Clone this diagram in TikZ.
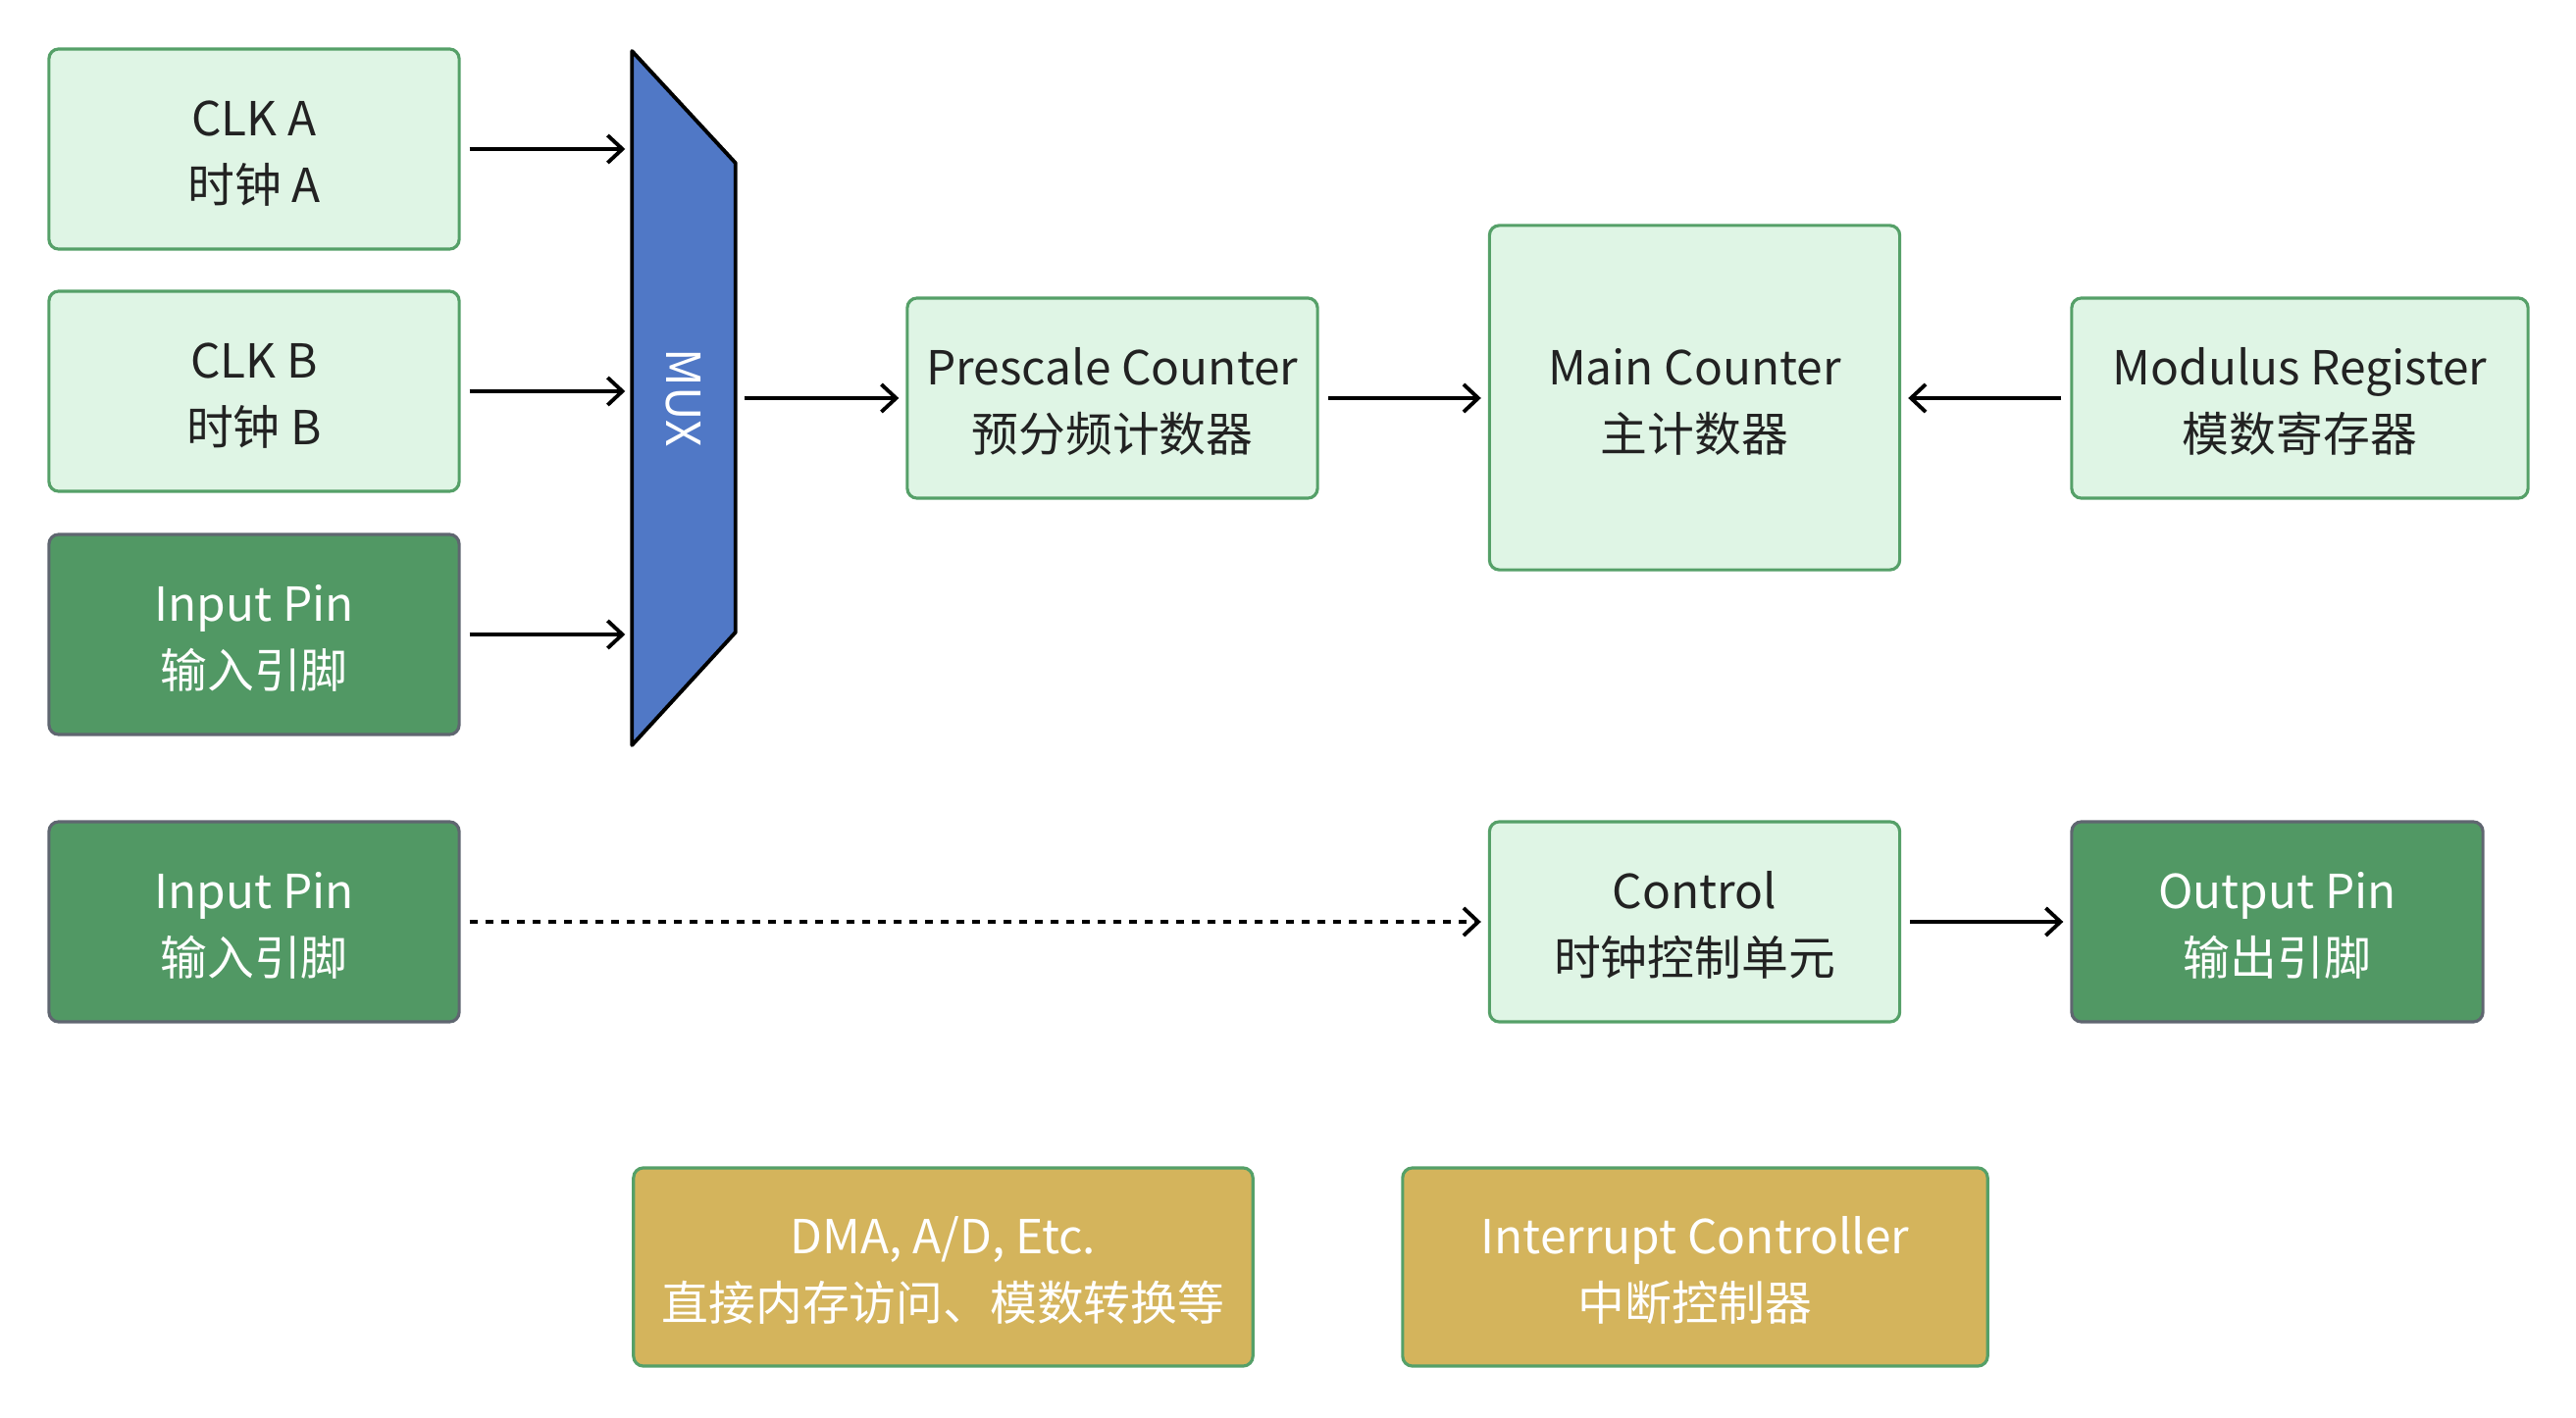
\documentclass[tikz,border=0pt]{standalone}
\usepackage{fontspec}
\setmainfont{Noto Sans CJK SC}
\usetikzlibrary{arrows.meta}
\definecolor{lightfill}{HTML}{DFF5E5}
\definecolor{greenline}{HTML}{55A068}
\definecolor{pinfill}{HTML}{519864}
\definecolor{pinline}{HTML}{5F6670}
\definecolor{muxfill}{HTML}{5078C6}
\definecolor{busfill}{HTML}{D4B45C}
\definecolor{textdark}{HTML}{222222}
\newcommand{\twolines}[2]{\rule{0pt}{0.95em}#1\\#2}
\tikzset{
	box/.style={draw=greenline,fill=lightfill,line width=0.9pt,rounded corners=0.1cm,
		align=center,text=textdark,inner sep=0pt,minimum width=4.18cm,minimum height=2.04cm,
		font=\fontsize{13.6pt}{19.3pt}\selectfont},
	pinbox/.style={box,draw=pinline,fill=pinfill,text=white},
	busbox/.style={box,fill=busfill,text=white},
	arr/.style={-{Straight Barb[length=0.15cm,width=0.28cm]},line width=1.1pt,
		shorten <=0.09cm,shorten >=0.07cm},
}
\begin{document}
\begin{tikzpicture}[x=0.01cm,y=-0.01cm]
	\useasboundingbox (0,0) rectangle (2626,1446);
	\node[box] (clkA) at (259,152) {\twolines{CLK A}{时钟 A}};
	\node[box] (clkB) at (259,399) {\twolines{CLK B}{时钟 B}};
	\node[pinbox] (inA) at (259,647) {\twolines{Input Pin}{输入引脚}};
	\node[pinbox] (inB) at (259,940) {\twolines{Input Pin}{输入引脚}};
	\node[inner sep=0pt,minimum width=1.04cm,minimum height=7.06cm] (mux) at (697,406) {};
	\draw[fill=muxfill,line width=1.1pt,line join=round] (mux.north west) -- ([yshift=-1.14cm]mux.north east)
		-- ([yshift=1.15cm]mux.south east) -- (mux.south west) -- cycle;
	\node[text=white,font=\fontsize{13.6pt}{19.3pt}\selectfont] (muxlabel) at (mux) {\rotatebox{-90}{MUX}};
	\node[box] (pre) at (1134,406) {\twolines{Prescale Counter}{预分频计数器}};
	\node[box,minimum height=3.51cm] (main) at (1727.5,405.5) {\twolines{Main Counter}{主计数器}};
	\node[box,minimum width=4.65cm] (mod) at (2344.5,406) {\twolines{Modulus Register}{模数寄存器}};
	\node[box] (ctrl) at (1727.5,940) {\twolines{Control}{时钟控制单元}};
	\node[pinbox,minimum width=4.19cm] (out) at (2321.5,940) {\twolines{Output Pin}{输出引脚}};
	\node[busbox,minimum width=6.31cm,minimum height=2.02cm] (dma) at (961.5,1292) {\twolines{DMA, A/D, Etc.}{直接内存访问、模数转换等}};
	\node[busbox,minimum width=5.96cm,minimum height=2.02cm] (irq) at (1728,1292) {\twolines{Interrupt Controller}{中断控制器}};
	\draw[arr] (clkA.east) -- (clkA.east -| mux.west);
	\draw[arr] (clkB.east) -- (clkB.east -| mux.west);
	\draw[arr] (inA.east) -- (inA.east -| mux.west);
	\draw[arr] (mux.east) -- (pre.west);
	\draw[arr] (pre.east) -- (pre.east -| main.west);
	\draw[arr] (mod.west) -- (mod.west -| main.east);
	\draw[arr,dash pattern=on 0.08cm off 0.08cm] (inB.east) -- (ctrl.west);
	\draw[arr] (ctrl.east) -- (out.west);
\end{tikzpicture}
\end{document}
